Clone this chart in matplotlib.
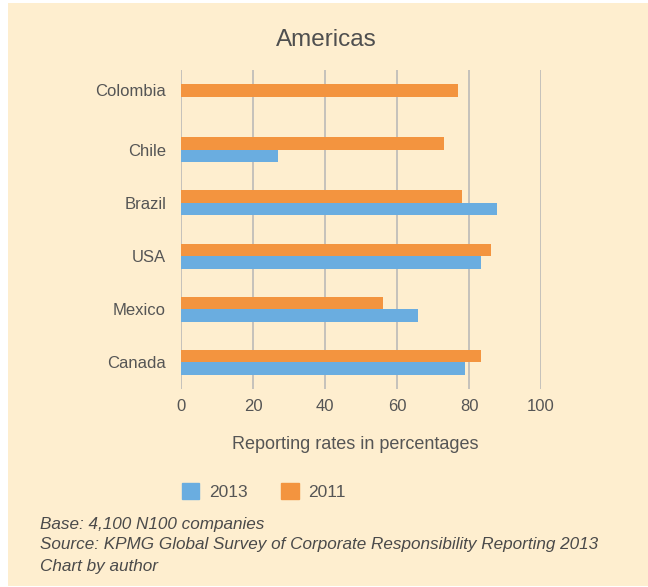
import matplotlib
matplotlib.use("Agg")
import matplotlib.pyplot as plt
import matplotlib.patches as mpatches
import numpy as np

# data
countries = ["Canada", "Mexico", "USA", "Brazil", "Chile", "Colombia"]
rate_2013 = [78.8, 65.8, 83.2, 87.8, 26.9, 0]
rate_2011 = [83.2, 56.2, 86.0, 78.1, 73.1, 77.0]
x_ticks = [0, 20, 40, 60, 80, 100]
notes = ["Base: 4,100 N100 companies",
         "Source: KPMG Global Survey of Corporate Responsibility Reporting 2013",
         "Chart by author"]

BG = "#feeecf"
BLUE = "#6aade0"
ORANGE = "#f3943f"
TXT = "#555555"

plt.rcParams['font.family'] = ['Liberation Sans', 'DejaVu Sans']

fig = plt.figure(figsize=(6.48, 5.87), dpi=100)
fig.patch.set_facecolor("white")
W, H = 648, 587
fig.patches.append(mpatches.Rectangle((8 / W, 1 - 586 / H), 1 - 8 / W, (586 - 3) / H,
                                      transform=fig.transFigure, facecolor=BG,
                                      edgecolor="none", zorder=-10))

ax = fig.add_axes([181.3 / W, 1 - 389 / H, (541 - 181.3) / W, (389 - 70) / H])
ax.set_facecolor("none")

y = np.arange(len(countries))
h = 0.234
ax.barh(y - h / 2, rate_2013, height=h, color=BLUE, zorder=3, label="2013")
ax.barh(y + h / 2, rate_2011, height=h, color=ORANGE, zorder=3, label="2011")

ax.set_xlim(0, 100)
ax.set_ylim(-0.5, len(countries) - 0.5)
ax.set_xticks(x_ticks)
# Colombia has a single bar, its label sits on that bar
ypos = [yy + (h / 2 if r == 0 else 0) for yy, r in zip(y, rate_2013)]
ax.set_yticks(ypos)
ax.set_yticklabels(countries)
ax.tick_params(axis="both", length=0, labelsize=12, labelcolor=TXT)
ax.tick_params(axis="x", pad=7)
ax.tick_params(axis="y", pad=11)
for s in ax.spines.values():
    s.set_visible(False)
ax.grid(axis="x", color="#b5b5b5", linewidth=1.1, zorder=1)
ax.set_axisbelow(True)

ax.set_xlabel("Reporting rates in percentages", fontsize=13, color=TXT, labelpad=16)
ax.xaxis.label.set_x(0.483)
fig.text(326 / W, 1 - 40 / H, "Americas", fontsize=17.5, color="#4f4f4f",
         ha="center", va="center")

hs = [mpatches.Patch(color=BLUE), mpatches.Patch(color=ORANGE)]
fig.legend(hs, ["2013", "2011"], loc="center", bbox_to_anchor=(264 / W, 1 - 491.5 / H),
           ncol=2, frameon=False, fontsize=12.5, labelcolor=TXT, handlelength=0.98,
           handleheight=0.98, handletextpad=0.57, columnspacing=1.95, borderpad=0)

for i, line in enumerate(notes):
    fig.text(40 / W, 1 - (524 + 21 * i) / H, line, fontsize=12.3, style="italic",
             color="#4a4a4a", ha="left", va="center")

fig.savefig("out.png", dpi=100)
